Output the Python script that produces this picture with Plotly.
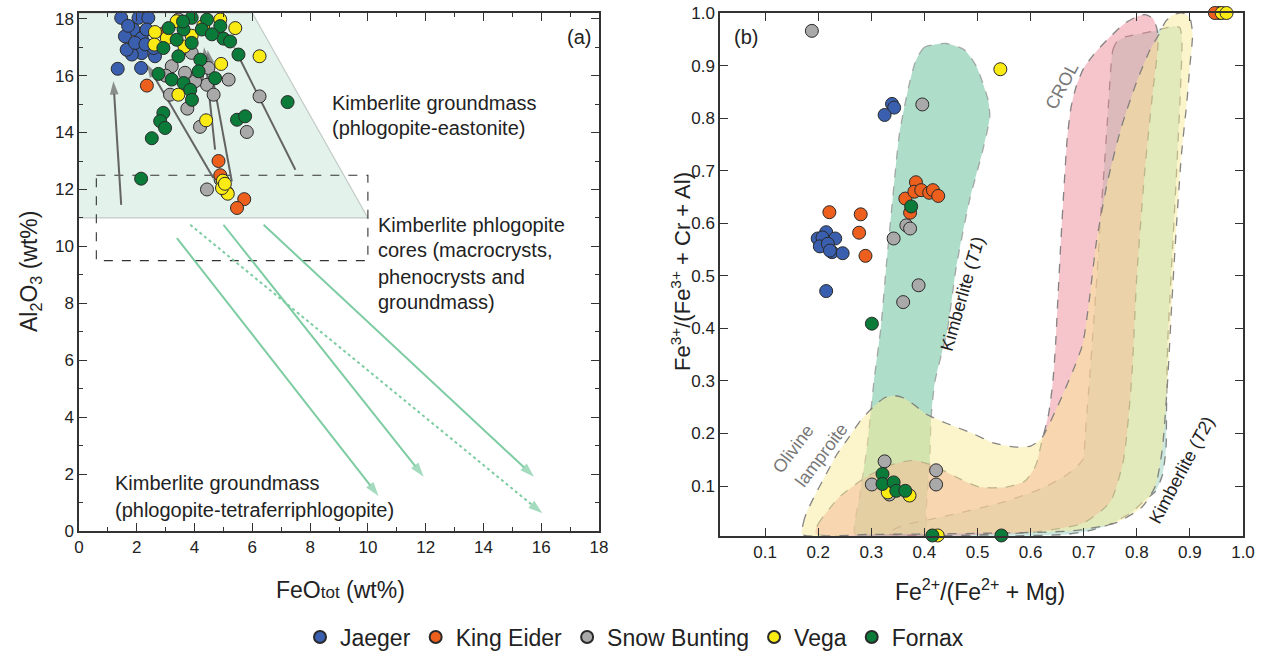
import plotly.graph_objects as go

FONT = "Arial, Liberation Sans, sans-serif"
W, H = 1269, 654

# ---------------- Panel (a) data ----------------
jaeger_a_x = [1.46, 2.06, 2.40, 1.88, 1.59, 2.17, 1.85, 2.17, 1.83, 2.63, 1.34, 2.15, 2.58, 2.34, 1.65, 1.94, 2.30, 1.70]
jaeger_a_y = [18.03, 18.03, 18.03, 17.62, 17.38, 17.32, 16.97, 16.79, 16.74, 16.68, 16.24, 16.27, 16.97, 17.62, 16.91, 17.15, 17.10, 17.75]
king_a_x = [2.35, 2.96, 4.83, 5.72, 5.47, 5.12, 4.89]
king_a_y = [15.65, 17.50, 13.00, 11.66, 11.35, 11.90, 12.50]
snow_a_x = [3.44, 3.21, 4.08, 4.48, 4.43, 4.66, 5.18, 6.25, 3.75, 4.19, 5.81, 4.43, 3.15, 4.02, 3.67, 3.00, 3.90, 4.90]
snow_a_y = [17.97, 16.33, 15.98, 16.27, 15.68, 15.33, 15.86, 15.27, 14.84, 14.20, 14.02, 12.00, 15.33, 15.80, 16.10, 16.00, 16.80, 12.35]
vega_a_x = [2.63, 2.61, 3.04, 3.38, 4.89, 5.41, 3.65, 4.92, 6.25, 3.44, 4.40, 4.98, 5.15, 4.95, 3.90, 4.30, 5.05]
vega_a_y = [17.53, 17.09, 17.32, 17.91, 17.97, 17.67, 17.02, 16.41, 16.68, 15.33, 14.43, 12.31, 11.85, 12.05, 17.40, 17.75, 12.20]
fornax_a_x = [3.90, 4.43, 4.89, 3.10, 3.62, 4.25, 3.38, 3.90, 2.92, 5.00, 5.23, 5.52, 4.20, 3.44, 2.75, 3.21, 3.62, 4.14,
              3.85, 3.91, 4.71, 2.92, 2.81, 2.98, 2.52, 7.22, 5.47, 5.75, 2.15, 3.60, 4.60]
fornax_a_y = [18.03, 17.97, 17.74, 17.67, 17.62, 17.62, 17.26, 17.15, 16.97, 17.30, 17.20, 16.74, 16.56, 16.68, 16.06, 15.86, 15.74, 16.15,
              15.50, 15.15, 15.91, 14.69, 14.40, 14.16, 13.80, 15.07, 14.45, 14.57, 12.38, 17.90, 17.45]

# field: kimberlite groundmass (phlogopite-eastonite)
field_a_x = [0, 0, 6.0, 10.0, 0]
field_a_y = [11, 18.2, 18.2, 11, 11]
# dashed box: kimberlite phlogopite cores
box_x = [0.6, 10.0, 10.0, 0.6, 0.6]
box_y = [12.5, 12.5, 9.5, 9.5, 12.5]
# grey arrows (start -> end)
gray_x0 = [1.46, 4.65, 4.71, 5.29, 7.49]
gray_y0 = [11.46, 12.40, 13.40, 12.28, 12.69]
gray_x1 = [1.19, 2.35, 4.33, 4.45, 5.35]
gray_y1 = [15.80, 16.40, 17.00, 16.90, 17.03]
# green arrows (start -> end), last one dotted
green_x0 = [3.39, 5.00, 6.39, 3.85]
green_y0 = [10.29, 10.76, 10.76, 10.76]
green_x1 = [10.37, 11.93, 15.75, 16.04]
green_y1 = [1.23, 1.91, 1.91, 0.62]
green_dash = ["solid", "solid", "solid", "dot"]

# ---------------- Panel (b) data ----------------
jaeger_b_x = [0.339, 0.343, 0.325, 0.215, 0.199, 0.208, 0.232, 0.203, 0.226, 0.246, 0.218, 0.215, 0.222]
jaeger_b_y = [0.827, 0.820, 0.806, 0.583, 0.571, 0.573, 0.571, 0.556, 0.545, 0.543, 0.561, 0.471, 0.548]
king_b_x = [0.384, 0.364, 0.381, 0.394, 0.409, 0.416, 0.426, 0.373, 0.221, 0.280, 0.277, 0.289, 0.947]
king_b_y = [0.678, 0.647, 0.660, 0.663, 0.658, 0.663, 0.652, 0.620, 0.621, 0.617, 0.582, 0.538, 1.000]
snow_b_x = [0.188, 0.396, 0.366, 0.373, 0.342, 0.389, 0.360, 0.325, 0.301, 0.334, 0.422, 0.422, 0.955]
snow_b_y = [0.966, 0.826, 0.596, 0.590, 0.571, 0.482, 0.450, 0.147, 0.103, 0.084, 0.130, 0.103, 1.000]
vega_b_x = [0.543, 0.372, 0.331, 0.425, 0.960, 0.969]
vega_b_y = [0.893, 0.082, 0.088, 0.006, 1.000, 1.000]
fornax_b_x = [0.375, 0.301, 0.321, 0.321, 0.342, 0.347, 0.364, 0.415, 0.545]
fornax_b_y = [0.632, 0.409, 0.123, 0.104, 0.107, 0.091, 0.091, 0.006, 0.006]

# fields (outline vertices)
t1_x = [0.441, 0.40, 0.384, 0.372, 0.353, 0.340, 0.328, 0.318, 0.305, 0.292, 0.278, 0.270, 0.400, 0.403, 0.410, 0.413,
        0.420, 0.443, 0.460, 0.485, 0.510, 0.523, 0.520, 0.498, 0.475, 0.441]
t1_y = [0.942, 0.935, 0.910, 0.867, 0.771, 0.644, 0.517, 0.402, 0.300, 0.174, 0.080, 0.006, 0.006, 0.050, 0.150, 0.237,
        0.300, 0.396, 0.517, 0.644, 0.739, 0.802, 0.834, 0.898, 0.930, 0.942]
t2_x = [0.751, 0.755, 0.763, 0.780, 0.830, 0.870, 0.881, 0.885, 0.882, 0.875, 0.868, 0.862, 0.858, 0.856, 0.855, 0.848,
        0.835, 0.816, 0.790, 0.751, 0.710, 0.666, 0.550, 0.420, 0.330, 0.360, 0.450, 0.550, 0.620, 0.666, 0.690,
        0.699, 0.703, 0.711, 0.718, 0.725, 0.731, 0.738, 0.745, 0.751]
t2_y = [0.894, 0.930, 0.946, 0.955, 0.965, 0.975, 0.972, 0.950, 0.850, 0.700, 0.566, 0.450, 0.369, 0.250, 0.172, 0.120,
        0.090, 0.074, 0.050, 0.028, 0.015, 0.008, 0.005, 0.005, 0.010, 0.025, 0.045, 0.070, 0.095, 0.120, 0.140,
        0.152, 0.200, 0.303, 0.400, 0.500, 0.600, 0.697, 0.800, 0.894]
crol_x = [0.195, 0.200, 0.240, 0.290, 0.334, 0.378, 0.416, 0.460, 0.504, 0.554, 0.590, 0.610, 0.620, 0.634, 0.642, 0.647,
          0.652, 0.657, 0.663, 0.669, 0.676, 0.686, 0.700, 0.718, 0.745, 0.777, 0.800, 0.816, 0.830, 0.838, 0.840,
          0.830, 0.815, 0.800, 0.790, 0.775, 0.750, 0.700, 0.600, 0.195]
crol_y = [0.010, 0.028, 0.079, 0.117, 0.139, 0.149, 0.139, 0.117, 0.098, 0.098, 0.110, 0.140, 0.180, 0.238, 0.300, 0.369,
          0.470, 0.566, 0.670, 0.762, 0.820, 0.861, 0.895, 0.920, 0.950, 0.980, 0.993, 0.997, 0.990, 0.970, 0.940,
          0.850, 0.700, 0.500, 0.300, 0.150, 0.070, 0.030, 0.012, 0.010]
lamp_x = [0.170, 0.172, 0.177, 0.195, 0.215, 0.235, 0.258, 0.280, 0.303, 0.325, 0.343, 0.360, 0.380, 0.403, 0.440, 0.491,
          0.530, 0.573, 0.600, 0.620, 0.650, 0.680, 0.698, 0.710, 0.724, 0.745, 0.770, 0.800, 0.825, 0.842, 0.855,
          0.870, 0.887, 0.900, 0.905, 0.900, 0.894, 0.884, 0.875, 0.866, 0.858, 0.848, 0.835, 0.810, 0.760, 0.680,
          0.500, 0.300, 0.170]
lamp_y = [0.008, 0.030, 0.047, 0.085, 0.123, 0.160, 0.193, 0.225, 0.250, 0.268, 0.272, 0.268, 0.255, 0.237, 0.220, 0.200,
          0.182, 0.174, 0.176, 0.190, 0.250, 0.320, 0.370, 0.450, 0.565, 0.680, 0.780, 0.870, 0.930, 0.960, 0.985,
          0.997, 1.000, 0.990, 0.960, 0.900, 0.828, 0.730, 0.600, 0.450, 0.300, 0.170, 0.100, 0.060, 0.030, 0.015,
          0.010, 0.008, 0.008]

# ---------------- styling ----------------
COLORS = {"Jaeger": "#3a5fae", "King Eider": "#ec5f1c", "Snow Bunting": "#a9a9a9",
          "Vega": "#fbeb14", "Fornax": "#0b7b3a"}
ORDER = ["Jaeger", "King Eider", "Snow Bunting", "Vega", "Fornax"]

# pixel boxes -> paper domains
ax_a = dict(x0=79, x1=599, y0=13, y1=531)
ax_b = dict(x0=720, x1=1243, y0=13, y1=536)

fig = go.Figure()

# --- panel a background field
fig.add_trace(go.Scatter(x=field_a_x, y=field_a_y, fill="toself", fillcolor="#e3f2eb", mode="none",
                         xaxis="x", yaxis="y", showlegend=False, hoverinfo="skip"))
fig.add_trace(go.Scatter(x=field_a_x[1:4] + [field_a_x[0]], y=field_a_y[1:4] + [field_a_y[0]], mode="lines",
                         line=dict(color="#c4ccc8", width=1.2), xaxis="x", yaxis="y", showlegend=False, hoverinfo="skip"))
fig.add_trace(go.Scatter(x=box_x, y=box_y, mode="lines", line=dict(color="#333", width=1.1, dash="dash"),
                         xaxis="x", yaxis="y", showlegend=False, hoverinfo="skip"))

# green arrows
for i in range(len(green_x0)):
    fig.add_trace(go.Scatter(x=[green_x0[i], green_x1[i]], y=[green_y0[i], green_y1[i]], mode="lines+markers",
                             line=dict(color="#7ecca2", width=2, dash=green_dash[i]),
                             marker=dict(symbol=["circle", "arrow"], size=[0, 15], color="#7ecca2",
                                         angleref="previous", line=dict(width=0)),
                             xaxis="x", yaxis="y", showlegend=False, hoverinfo="skip", cliponaxis=False))
# gray arrows
for i in range(len(gray_x0)):
    fig.add_trace(go.Scatter(x=[gray_x0[i], gray_x1[i]], y=[gray_y0[i], gray_y1[i]], mode="lines+markers",
                             line=dict(color="#646464", width=2),
                             marker=dict(symbol=["circle", "arrow"], size=[0, 14], color="#646464",
                                         angleref="previous", line=dict(width=0)),
                             xaxis="x", yaxis="y", showlegend=False, hoverinfo="skip"))

# --- panel b fields
fields = [
    (t1_x, t1_y, "rgba(160,216,192,0.85)", "rgba(150,150,150,0.8)"),
    (t2_x, t2_y, "rgba(160,214,194,0.55)", "rgba(120,120,120,0.9)"),
    (crol_x, crol_y, "rgba(238,140,152,0.50)", "rgba(120,120,120,0.9)"),
    (lamp_x, lamp_y, "rgba(250,234,150,0.50)", "rgba(120,120,120,0.9)"),
]
for fx, fy, fc, lc in fields:
    fig.add_trace(go.Scatter(x=fx, y=fy, fill="toself", fillcolor=fc, mode="lines",
                             line=dict(color=lc, width=1.3, dash="dash", shape="spline", smoothing=0.6),
                             xaxis="x2", yaxis="y2", showlegend=False, hoverinfo="skip"))

# --- points
data_a = {"Jaeger": (jaeger_a_x, jaeger_a_y), "King Eider": (king_a_x, king_a_y),
          "Snow Bunting": (snow_a_x, snow_a_y), "Vega": (vega_a_x, vega_a_y), "Fornax": (fornax_a_x, fornax_a_y)}
data_b = {"Jaeger": (jaeger_b_x, jaeger_b_y), "King Eider": (king_b_x, king_b_y),
          "Snow Bunting": (snow_b_x, snow_b_y), "Vega": (vega_b_x, vega_b_y), "Fornax": (fornax_b_x, fornax_b_y)}
draw_order = ["Snow Bunting", "Jaeger", "King Eider", "Vega", "Fornax"]
for name in draw_order:
    rank = ORDER.index(name) + 1
    mk = dict(size=13, color=COLORS[name], line=dict(color="#2a2a2a", width=1))
    fig.add_trace(go.Scatter(x=data_a[name][0], y=data_a[name][1], mode="markers", name=name, marker=mk,
                             xaxis="x", yaxis="y", legendgroup=name, legendrank=rank, cliponaxis=False))
    fig.add_trace(go.Scatter(x=data_b[name][0], y=data_b[name][1], mode="markers", name=name, marker=mk,
                             xaxis="x2", yaxis="y2", legendgroup=name, showlegend=False, cliponaxis=False))


def px_dom_x(a, b):
    return [a / W, b / W]


def px_dom_y(top, bottom):
    return [1 - bottom / H, 1 - top / H]


axis_common = dict(showgrid=False, zeroline=False, showline=True, linecolor="#333", linewidth=1.5,
                   mirror="ticks", ticks="inside", tickcolor="#333", tickwidth=1.3, ticklen=8,
                   tickfont=dict(family=FONT, size=17, color="#222"), automargin=False)

fig.update_layout(
    width=W, height=H, margin=dict(l=0, r=0, t=0, b=0, autoexpand=False),
    paper_bgcolor="white", plot_bgcolor="white",
    font=dict(family=FONT, color="#222"),
    xaxis=dict(domain=px_dom_x(ax_a["x0"], ax_a["x1"]), range=[0, 18], tick0=0, dtick=2,
               minor=dict(ticks="inside", dtick=1, ticklen=4, tickcolor="#333"), anchor="y", **axis_common),
    yaxis=dict(domain=px_dom_y(ax_a["y0"], ax_a["y1"]), range=[0, 18.2], tick0=0, dtick=2,
               minor=dict(ticks="inside", dtick=1, ticklen=4, tickcolor="#333"), anchor="x", **axis_common),
    xaxis2=dict(domain=px_dom_x(ax_b["x0"], ax_b["x1"]), range=[0.015, 1.0],
                tickvals=[0.1, 0.2, 0.3, 0.4, 0.5, 0.6, 0.7, 0.8, 0.9, 1.0],
                ticktext=["0.1", "0.2", "0.3", "0.4", "0.5", "0.6", "0.7", "0.8", "0.9", "1.0"],
                anchor="y2", **axis_common),
    yaxis2=dict(domain=px_dom_y(ax_b["y0"], ax_b["y1"]), range=[0.005, 1.0],
                tickvals=[0.1, 0.2, 0.3, 0.4, 0.5, 0.6, 0.7, 0.8, 0.9, 1.0],
                ticktext=["0.1", "0.2", "0.3", "0.4", "0.5", "0.6", "0.7", "0.8", "0.9", "1.0"],
                anchor="x2", **axis_common),
    legend=dict(orientation="h", x=0.5, xanchor="center", y=1 - 637 / H, yanchor="middle",
                font=dict(family=FONT, size=23, color="#222"), itemsizing="constant",
                bgcolor="rgba(0,0,0,0)", tracegroupgap=0, itemwidth=30),
    showlegend=True,
)

ann = []


def txt(x, y, s, xref="x", yref="y", size=20, color="#222", xanchor="left", angle=0, yanchor="middle"):
    ann.append(dict(x=x, y=y, xref=xref, yref=yref, text=s, showarrow=False, xanchor=xanchor, yanchor=yanchor,
                    textangle=angle, font=dict(family=FONT, size=size, color=color)))


# panel a labels
txt(17.3, 17.37, "(a)", size=20, xanchor="center")
txt(8.7, 15.05, "Kimberlite groundmass")
txt(8.7, 14.17, "(phlogopite-eastonite)")
txt(10.29, 10.76, "Kimberlite phlogopite")
txt(10.29, 9.88, "cores (macrocrysts,")
txt(10.29, 8.94, "phenocrysts and")
txt(10.29, 8.06, "groundmass)")
txt(1.18, 1.68, "Kimberlite groundmass")
txt(1.18, 0.74, "(phlogopite-tetraferriphlogopite)")
# panel b labels
txt(0.064, 0.954, "(b)", xref="x2", yref="y2", size=20, xanchor="center")
txt(0.659, 0.861, "CROL", xref="x2", yref="y2", size=18, color="#777", xanchor="center", angle=-62)
txt(0.472, 0.465, "Kimberlite (<i>T1</i>)", xref="x2", yref="y2", size=18, xanchor="center", angle=-74)
txt(0.885, 0.13, "Kimberlite (<i>T2</i>)", xref="x2", yref="y2", size=18, xanchor="center", angle=-62)
txt(0.153, 0.170, "Olivine", xref="x2", yref="y2", size=18, color="#777", xanchor="center", angle=-53)
txt(0.206, 0.160, "lamproite", xref="x2", yref="y2", size=18, color="#777", xanchor="center", angle=-53)
# axis titles
txt(340 / W, 1 - 590 / H, "FeO<span style='font-size:17px'>tot</span> (wt%)", xref="paper", yref="paper",
    size=23, xanchor="center")
txt(30 / W, 1 - 272 / H, "Al<sub>2</sub>O<sub>3</sub> (wt%)", xref="paper", yref="paper", size=23,
    xanchor="center", angle=-90)
txt(980 / W, 1 - 590 / H, "Fe<sup>2+</sup>/(Fe<sup>2+</sup> + Mg)", xref="paper", yref="paper", size=23,
    xanchor="center")
txt(681 / W, 1 - 272 / H, "Fe<sup>3+</sup>/(Fe<sup>3+</sup> + Cr + Al)", xref="paper", yref="paper", size=22,
    xanchor="center", angle=-90)
fig.update_layout(annotations=ann)

fig.write_html("out.html", config={"displayModeBar": False},
               post_script="document.body.style.margin='0';document.body.style.overflow='hidden';")
